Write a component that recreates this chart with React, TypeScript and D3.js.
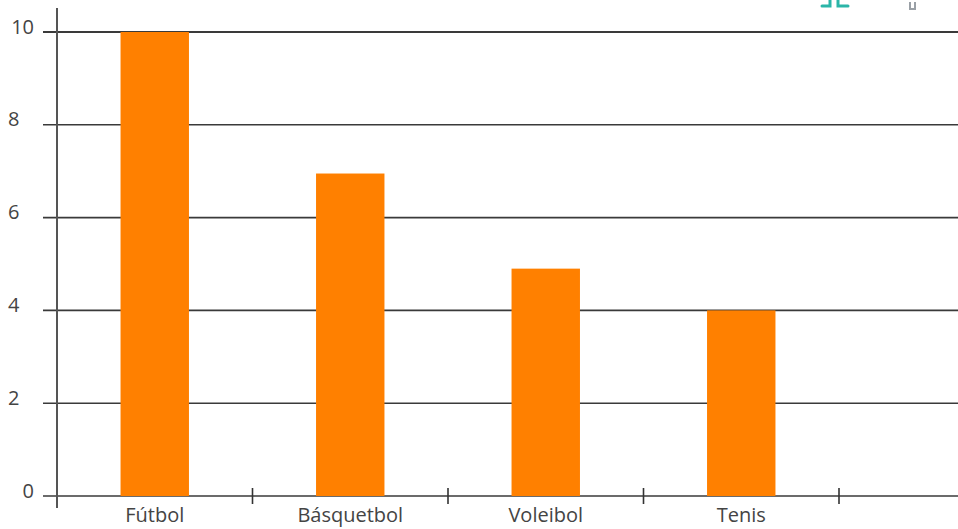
import React from "react";
import * as d3 from "d3";

const categories = ["Fútbol", "Básquetbol", "Voleibol", "Tenis"];
const values = [10, 6.95, 4.9, 4];
const yTicks = [0, 2, 4, 6, 8, 10];

const W = 958;
const H = 529;

export default function App() {
  const x = d3
    .scaleBand<string>()
    .domain(categories)
    .range([57, 57 + 4 * 195.5])
    .paddingInner(0.65)
    .paddingOuter(0.325);
  const step = x.step();
  const x0 = 57;
  const y = d3.scaleLinear().domain([0, 10]).range([496, 32]);
  const boundaries = categories.map((_, i) => x0 + step * (i + 1));

  return (
    <div style={{ position: "absolute", left: 0, top: 0 }}>
      <svg width={W} height={H} style={{ display: "block", background: "#fff" }}>
        {/* watermark fragments */}
        <g fill="none" stroke="#2bb5a8" strokeWidth={3} strokeLinecap="round">
          <path d="M822,6 L830,6 L830,0" />
          <path d="M838,0 L838,6 L848,6" />
        </g>
        <path d="M910,2 L910,9 L915,9 L915,2" fill="none" stroke="#9aa0a6" strokeWidth={2} />

        {/* gridlines */}
        {yTicks.map((t) => (
          <line
            key={"g" + t}
            x1={43}
            x2={W}
            y1={y(t)}
            y2={y(t)}
            stroke="#3a3a3a"
            strokeWidth={t === 10 ? 1.8 : 1.6}
          />
        ))}

        {/* bars */}
        {categories.map((c, i) => (
          <rect
            key={c}
            x={x(c)}
            y={y(values[i])}
            width={x.bandwidth()}
            height={y(0) - y(values[i])}
            fill="#ff8000"
          />
        ))}

        {/* y axis */}
        <line x1={57} x2={57} y1={8} y2={508} stroke="#555" strokeWidth={2} />

        {/* x axis ticks */}
        {boundaries.map((b, i) => (
          <line key={"t" + i} x1={b} x2={b} y1={488} y2={504} stroke="#333" strokeWidth={1.6} />
        ))}

        {/* y tick labels */}
        {yTicks.map((t) => (
          <text
            key={"l" + t}
            x={t === 0 || t === 10 ? 34 : 8}
            y={y(t) + 1.5}
            textAnchor={t === 0 || t === 10 ? "end" : "start"}
            fontFamily="'Open Sans', sans-serif"
            fontSize={20}
            fill="#444"
          >
            {t}
          </text>
        ))}

        {/* category labels */}
        {categories.map((c) => (
          <text
            key={"c" + c}
            x={(x(c) as number) + x.bandwidth() / 2}
            y={522}
            textAnchor="middle"
            fontFamily="'Open Sans', sans-serif"
            fontSize={20}
            fill="#444"
          >
            {c}
          </text>
        ))}
      </svg>
    </div>
  );
}
